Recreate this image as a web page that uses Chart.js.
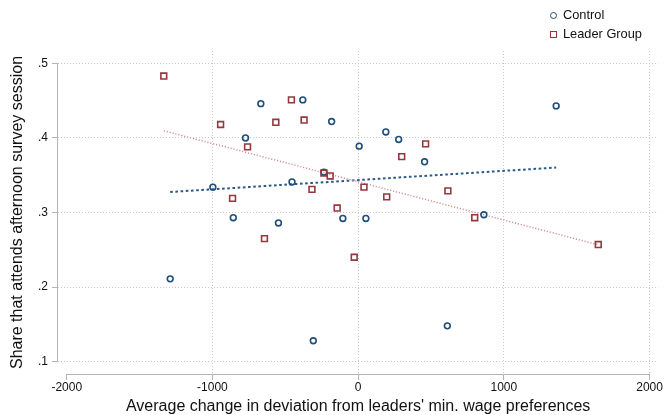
<!DOCTYPE html>
<html>
<head>
<meta charset="utf-8">
<script src="https://cdn.jsdelivr.net/npm/chart.js@4/dist/chart.umd.min.js"></script>
<style>
  html, body { margin: 0; padding: 0; background: #ffffff; }
  #wrap { position: relative; width: 664px; height: 415px; }
  #chart { position: absolute; left: 0; top: 0; }
  .legend { position: absolute; left: 0; top: 0; font-family: "Liberation Sans", Arial, Helvetica, sans-serif; font-size: 12.8px; color: #111; }
  .item { position: absolute; left: 549px; height: 16px; line-height: 16px; white-space: nowrap; }
  .item span.txt { position: absolute; left: 14px; top: 0; }
  .mk { position: absolute; left: 1px; box-sizing: border-box; }
  .mk.circle { width: 7px; height: 7px; top: 4.5px; border: 1.5px solid #1f4e7a; border-radius: 50%; }
  .mk.square { width: 7px; height: 7px; top: 4.5px; border: 1.5px solid #93383e; }
</style>
</head>
<body>
<div id="wrap">
  <canvas id="chart" width="664" height="415"></canvas>
  <div class="legend">
    <div class="item" style="top:7px;"><div class="mk circle"></div><span class="txt">Control</span></div>
    <div class="item" style="top:26px;"><div class="mk square"></div><span class="txt">Leader Group</span></div>
  </div>
</div>
<script>
// Control groups: change in deviation from leaders' preferences vs. afternoon attendance
const controlX = [-668, -773, -997, -380, -182, 190, 278, 7, -454, -235,
                  1359, 456, 863, -857, -1290, -547, -105, 53, -308, 612];
const controlY = [0.446, 0.400, 0.334, 0.451, 0.422, 0.408, 0.398, 0.389, 0.341, 0.354,
                  0.443, 0.368, 0.297, 0.293, 0.211, 0.286, 0.292, 0.292, 0.128, 0.148];

// Leader groups
const leaderX = [-1334, -944, -759, -862, -458, -565, -371, -235, -192, -317,
                 40, 196, -144, 463, 299, 616, 800, -643, -27, 1648];
const leaderY = [0.483, 0.418, 0.388, 0.319, 0.451, 0.421, 0.424, 0.353, 0.349, 0.331,
                 0.334, 0.321, 0.306, 0.392, 0.375, 0.329, 0.293, 0.265, 0.240, 0.257];

// Linear fit lines (end points)
const controlFitX = [-1290, 1359];
const controlFitY = [0.3275, 0.3603];
const leaderFitX = [-1334, 1648];
const leaderFitY = [0.4096, 0.2567];

// Axis ticks
const xTicks = [-2000, -1000, 0, 1000, 2000];
const xTickLabels = ['-2000', '-1000', '0', '1000', '2000'];
const yTicks = [0.1, 0.2, 0.3, 0.4, 0.5];
const yTickLabels = ['.1', '.2', '.3', '.4', '.5'];

const NAVY = '#1f4e7a';
const MAROON = '#93383e';
const FONT = '"Liberation Sans", Arial, Helvetica, sans-serif';

const toPoints = (xs, ys) => xs.map((x, i) => ({ x: x, y: ys[i] }));

// Axis lines that span only the labelled tick range
const axisLines = {
  id: 'axisLines',
  beforeDatasetsDraw(chart) {
    const { ctx, chartArea, scales } = chart;
    const xs = scales.x, ys = scales.y;
    ctx.save();
    ctx.strokeStyle = '#b4b4b4';
    ctx.lineWidth = 1;
    ctx.setLineDash([]);
    ctx.beginPath();
    ctx.moveTo(xs.getPixelForValue(xTicks[0]), chartArea.bottom + 0.5);
    ctx.lineTo(xs.getPixelForValue(xTicks[xTicks.length - 1]), chartArea.bottom + 0.5);
    ctx.moveTo(chartArea.left - 0.5, ys.getPixelForValue(yTicks[0]));
    ctx.lineTo(chartArea.left - 0.5, ys.getPixelForValue(yTicks[yTicks.length - 1]));
    ctx.stroke();
    ctx.restore();
  }
};

const gridOpts = (hideFirst) => ({
  color: ctx => (hideFirst && ctx.tick && ctx.tick.value === xTicks[0]) ? 'rgba(0,0,0,0)' : '#c9c9c9',
  lineWidth: 1,
  drawTicks: true,
  tickLength: 6,
  tickColor: '#b4b4b4',
  tickBorderDash: [1, 0],
  tickWidth: 1
});

new Chart(document.getElementById('chart'), {
  type: 'scatter',
  data: {
    datasets: [
      {
        label: 'Control',
        data: toPoints(controlX, controlY),
        pointStyle: 'circle',
        pointRadius: 2.9,
        pointBorderWidth: 1.6,
        borderColor: NAVY,
        backgroundColor: 'rgba(0,0,0,0)',
        order: 1
      },
      {
        label: 'Leader Group',
        data: toPoints(leaderX, leaderY),
        pointStyle: 'rect',
        pointRadius: 4.1,
        pointBorderWidth: 1.6,
        borderColor: MAROON,
        backgroundColor: 'rgba(0,0,0,0)',
        order: 0
      },
      {
        label: 'Control fit',
        data: toPoints(controlFitX, controlFitY),
        showLine: true,
        pointRadius: 0,
        borderColor: '#2a5884',
        borderWidth: 2,
        borderDash: [2.6, 2.6],
        order: 3
      },
      {
        label: 'Leader fit',
        data: toPoints(leaderFitX, leaderFitY),
        showLine: true,
        pointRadius: 0,
        borderColor: '#cf9499',
        borderWidth: 1.5,
        borderDash: [1.2, 1.8],
        order: 2
      }
    ]
  },
  options: {
    responsive: false,
    animation: false,
    devicePixelRatio: 1,
    layout: { padding: { left: 0, right: 4, top: 51, bottom: 0 } },
    plugins: {
      legend: { display: false },
      tooltip: { enabled: false }
    },
    scales: {
      x: {
        type: 'linear',
        min: -2060,
        max: 2060,
        afterBuildTicks(scale) { scale.ticks = xTicks.map(v => ({ value: v })); },
        afterFit(scale) { scale.height = 41; scale.paddingLeft = 0; scale.paddingRight = 0; },
        border: { display: false, dash: [1, 2] },
        grid: gridOpts(true),
        ticks: {
          padding: 0,
          maxRotation: 0,
          autoSkip: false,
          color: '#111',
          font: { family: FONT, size: 12 },
          callback: (v) => xTickLabels[xTicks.indexOf(v)]
        },
        title: {
          display: true,
          text: "Average change in deviation from leaders' min. wage preferences",
          color: '#111',
          font: { family: FONT, size: 16, lineHeight: 1 },
          padding: { top: 0, bottom: 0 }
        }
      },
      y: {
        type: 'linear',
        min: 0.0834,
        max: 0.5166,
        afterBuildTicks(scale) { scale.ticks = yTicks.map(v => ({ value: v })); },
        afterFit(scale) { scale.width = 58; scale.paddingTop = 0; scale.paddingBottom = 0; },
        border: { display: false, dash: [1, 2] },
        grid: gridOpts(false),
        ticks: {
          padding: 4,
          autoSkip: false,
          color: '#111',
          font: { family: FONT, size: 12 },
          callback: (v) => yTickLabels[yTicks.indexOf(v)]
        },
        title: {
          display: true,
          text: 'Share that attends afternoon survey session',
          color: '#111',
          font: { family: FONT, size: 16, lineHeight: 1 },
          padding: { top: 10, bottom: 0 }
        }
      }
    }
  },
  plugins: [axisLines]
});
</script>
</body>
</html>
